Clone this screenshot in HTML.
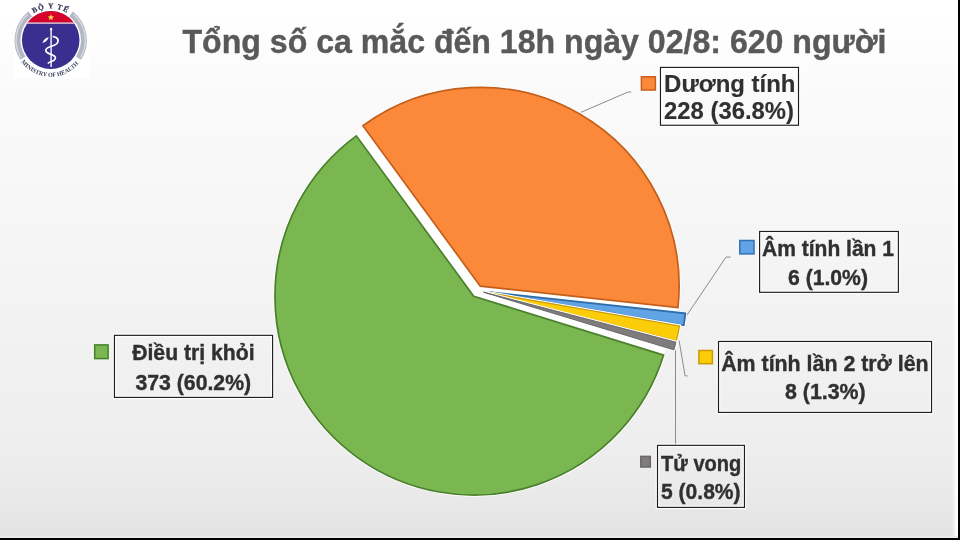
<!DOCTYPE html>
<html><head><meta charset="utf-8"><style>
html,body{margin:0;padding:0;width:960px;height:540px;overflow:hidden;background:#fff}
svg{display:block}
</style></head><body>
<svg width="960" height="540" viewBox="0 0 960 540" style="will-change:transform">
<defs>
<linearGradient id="bg" x1="0" y1="0" x2="0" y2="1">
<stop offset="0" stop-color="#ffffff"/>
<stop offset="0.022" stop-color="#ffffff"/>
<stop offset="0.12" stop-color="#fcfcfc"/>
<stop offset="0.18" stop-color="#fafafa"/>
<stop offset="0.365" stop-color="#f7f7f7"/>
<stop offset="0.55" stop-color="#f3f3f3"/>
<stop offset="0.82" stop-color="#eeeeee"/>
<stop offset="0.87" stop-color="#ececec"/>
<stop offset="0.92" stop-color="#e9e9e9"/>
<stop offset="1" stop-color="#e2e2e2"/>
</linearGradient>
<linearGradient id="rg" x1="0" y1="0" x2="1" y2="0"><stop offset="0" stop-color="#ffffff" stop-opacity="0"/><stop offset="0.75" stop-color="#ffffff" stop-opacity="0.9"/><stop offset="1" stop-color="#ffffff" stop-opacity="1"/></linearGradient>
</defs>
<rect x="0" y="0" width="960" height="540" fill="url(#bg)"/>

<g>
  <rect x="13.5" y="0" width="75.5" height="78.5" fill="#ffffff"/>
  <defs>
    <path id="arcTop" d="M24.65,21.86 A31.8,31.8 0 0 1 76.75,21.86"/>
    <path id="arcBot" d="M19.00,58.40 A36.6,36.6 0 0 0 82.40,58.40"/>
  </defs>
  <path d="M22.86,58.18 A33.2,33.2 0 0 1 30.26,13.94" fill="none" stroke="#b3b7c4" stroke-width="6"/>
  <path d="M71.14,13.94 A33.2,33.2 0 0 1 78.54,58.18" fill="none" stroke="#b3b7c4" stroke-width="6"/>
  <path d="M20.74,57.40 A34.6,34.6 0 0 1 27.55,14.39" fill="none" stroke="#d3d6de" stroke-width="1.6"/>
  <path d="M73.85,14.39 A34.6,34.6 0 0 1 80.66,57.40" fill="none" stroke="#d3d6de" stroke-width="1.6"/>
  <circle cx="50.7" cy="40.1" r="29.6" fill="#ffffff"/>
  <circle cx="50.7" cy="40.1" r="28.8" fill="#3a2f8e"/>
  <path d="M27.6,22.6 A28.8,28.8 0 0 1 73.8,22.6 Z" fill="#d6032a"/>
  <rect x="26.5" y="22.4" width="48.4" height="1.4" fill="#f0c8d0"/>
  <path d="M50.9,14.2 L51.8,16.3 L54.1,16.4 L52.3,17.9 L52.9,20.1 L50.9,18.9 L48.9,20.1 L49.5,17.9 L47.7,16.4 L50,16.3 Z" fill="#f9d64a"/>
  <line x1="51.1" y1="29" x2="51.1" y2="67" stroke="#ecebf6" stroke-width="1.5"/>
  <ellipse cx="51.1" cy="29.2" rx="1.1" ry="1.4" fill="#ffffff"/>
  <path d="M42.4,43 C43.5,39.5 46,37.6 48.8,37.2 C47.8,40 45.5,42.2 42.4,43 Z" fill="#ffffff"/>
  <path d="M53.4,36.6 C57.5,37.2 59.5,40 57,43.5 C54.5,46.5 46.5,46.5 45.8,50 C45.3,53.5 51,53.8 54.6,56.2 C56.5,57.6 55,60.2 52,61.2 C50.5,61.8 49,62.3 48.3,63" fill="none" stroke="#ffffff" stroke-width="1.7" stroke-linecap="round"/>
  <text font-family="Liberation Serif" font-weight="bold" font-size="7.4" fill="#2f3552" letter-spacing="1.0" stroke="#2f3552" stroke-width="0.2"><textPath href="#arcTop" startOffset="50%" text-anchor="middle">BỘ Y TẾ</textPath></text>
  <text font-family="Liberation Serif" font-weight="bold" font-size="6" fill="#3a3f5c"><textPath href="#arcBot" startOffset="4" textLength="66" lengthAdjust="spacingAndGlyphs">MINISTRY OF HEALTH</textPath></text>
</g>

<text x="182.5" y="53.1" font-family="Liberation Sans" font-weight="bold" font-size="32.4" fill="#595959" stroke="#595959" stroke-width="0.4" textLength="704" lengthAdjust="spacingAndGlyphs">Tổng số ca mắc đến 18h ngày 02/8: 620 người</text>
<path d="M631.3,92 L628,92 L580.8,112.4" fill="none" stroke="#8c8c8c" stroke-width="1"/>
<path d="M730.6,257.1 L726,257.1 L687.1,314.9" fill="none" stroke="#8c8c8c" stroke-width="1"/>
<path d="M687.5,375.9 L685.1,375.9 L679.1,340.5" fill="none" stroke="#8c8c8c" stroke-width="1"/>
<path d="M675.5,445 L675.5,345.3" fill="none" stroke="#8c8c8c" stroke-width="1"/>
<path d="M480.30,286.22 L362.89,125.80 L356.32,135.82 L473.73,296.25 L663.62,355.10 L677.94,307.65 Z" fill="#ffffff" fill-opacity="0.92"/><path d="M480.30,286.22 L362.89,125.80 A198.8,198.8 0 0 1 677.94,307.65 Z" fill="#ffffff" stroke="#ffffff" stroke-width="2.6" stroke-linejoin="miter"/>
<path d="M487.70,291.93 L685.35,313.36 A198.8,198.8 0 0 1 683.68,325.33 Z" fill="#ffffff" stroke="#ffffff" stroke-width="2.6" stroke-linejoin="miter"/>
<path d="M483.67,291.80 L679.53,325.88 A198.8,198.8 0 0 1 676.30,340.95 Z" fill="#ffffff" stroke="#ffffff" stroke-width="2.6" stroke-linejoin="miter"/>
<path d="M483.57,292.18 L675.98,342.18 A198.8,198.8 0 0 1 673.82,349.87 Z" fill="#ffffff" stroke="#ffffff" stroke-width="2.6" stroke-linejoin="miter"/>
<path d="M473.73,296.25 L663.62,355.10 A198.8,198.8 0 1 1 356.32,135.82 Z" fill="#ffffff" stroke="#ffffff" stroke-width="2.6" stroke-linejoin="miter"/>
<path d="M480.30,286.22 L362.89,125.80 A198.8,198.8 0 0 1 677.94,307.65 Z" fill="none" stroke="#ffffff" stroke-width="3.2"/><path d="M480.30,286.22 L362.89,125.80 A198.8,198.8 0 0 1 677.94,307.65 Z" fill="#FB8939" stroke="#C45F1B" stroke-width="1.7" stroke-linejoin="miter"/>
<path d="M487.70,291.93 L685.35,313.36 A198.8,198.8 0 0 1 683.68,325.33 Z" fill="none" stroke="#ffffff" stroke-width="3.2"/><path d="M487.70,291.93 L685.35,313.36 A198.8,198.8 0 0 1 683.68,325.33 Z" fill="#60A4E5" stroke="#2E6CAB" stroke-width="1.8" stroke-linejoin="miter"/>
<path d="M483.67,291.80 L679.53,325.88 A198.8,198.8 0 0 1 676.30,340.95 Z" fill="none" stroke="#ffffff" stroke-width="3.2"/><path d="M483.67,291.80 L679.53,325.88 A198.8,198.8 0 0 1 676.30,340.95 Z" fill="#FBCC08" stroke="#C99A0A" stroke-width="1.2" stroke-linejoin="miter"/>
<path d="M483.57,292.18 L675.98,342.18 A198.8,198.8 0 0 1 673.82,349.87 Z" fill="none" stroke="#ffffff" stroke-width="3.2"/><path d="M483.57,292.18 L675.98,342.18 A198.8,198.8 0 0 1 673.82,349.87 Z" fill="#807C7D" stroke="#5f5d5f" stroke-width="0.9" stroke-linejoin="miter"/>
<path d="M473.73,296.25 L663.62,355.10 A198.8,198.8 0 1 1 356.32,135.82 Z" fill="none" stroke="#ffffff" stroke-width="3.2"/><path d="M473.73,296.25 L663.62,355.10 A198.8,198.8 0 1 1 356.32,135.82 Z" fill="#7AB750" stroke="#4A7F2B" stroke-width="1.7" stroke-linejoin="miter"/>
<rect x="660.45" y="67.4" width="138.05" height="57.85" fill="none" stroke="#ffffff" stroke-opacity="0.85" stroke-width="3.6"/><rect x="660.45" y="67.4" width="138.05" height="57.85" fill="none" stroke="#1c1c1c" stroke-width="1.15"/><rect x="641.4" y="76.8" width="14.0" height="13.2" fill="#FB8939" stroke="#C95E18" stroke-width="1.5"/><rect x="759.6" y="231.45" width="138.8" height="60.85" fill="none" stroke="#ffffff" stroke-opacity="0.85" stroke-width="3.6"/><rect x="759.6" y="231.45" width="138.8" height="60.85" fill="none" stroke="#1c1c1c" stroke-width="1.15"/><rect x="739.8" y="240.5" width="14.2" height="13.4" fill="#60A4E5" stroke="#2F70B8" stroke-width="1.5"/><rect x="718.5" y="341.45" width="213.05" height="70.95" fill="none" stroke="#ffffff" stroke-opacity="0.85" stroke-width="3.6"/><rect x="718.5" y="341.45" width="213.05" height="70.95" fill="none" stroke="#1c1c1c" stroke-width="1.15"/><rect x="698.9" y="350.5" width="13.5" height="13.2" fill="#FBCC08" stroke="#C99A05" stroke-width="1.5"/><rect x="657.5" y="445.35" width="86.95" height="62.05" fill="none" stroke="#ffffff" stroke-opacity="0.85" stroke-width="3.6"/><rect x="657.5" y="445.35" width="86.95" height="62.05" fill="none" stroke="#1c1c1c" stroke-width="1.15"/><rect x="640.8" y="456.4" width="9.5" height="10.6" fill="#807C7D" stroke="#6a6668" stroke-width="1.5"/><rect x="114.45" y="335.35" width="158.15" height="62.05" fill="none" stroke="#ffffff" stroke-opacity="0.85" stroke-width="3.6"/><rect x="114.45" y="335.35" width="158.15" height="62.05" fill="none" stroke="#1c1c1c" stroke-width="1.15"/><rect x="94.7" y="344.9" width="13.4" height="13.7" fill="#7AB750" stroke="#46802A" stroke-width="1.5"/><text x="664.10" y="92.4" font-family="Liberation Sans" font-weight="bold" font-size="23" fill="#303030" text-anchor="start" textLength="131.40" lengthAdjust="spacingAndGlyphs" stroke="#303030" stroke-width="0.15">Dương tính</text><text x="664.10" y="119.2" font-family="Liberation Sans" font-weight="bold" font-size="23" fill="#303030" text-anchor="start" textLength="129.80" lengthAdjust="spacingAndGlyphs" stroke="#303030" stroke-width="0.15">228 (36.8%)</text><text x="762.00" y="256.3" font-family="Liberation Sans" font-weight="bold" font-size="22.5" fill="#303030" text-anchor="start" textLength="132.00" lengthAdjust="spacingAndGlyphs" stroke="#303030" stroke-width="0.4">Âm tính lần 1</text><text x="788.00" y="284.8" font-family="Liberation Sans" font-weight="bold" font-size="22.5" fill="#303030" text-anchor="start" textLength="80.00" lengthAdjust="spacingAndGlyphs" stroke="#303030" stroke-width="0.4">6 (1.0%)</text><text x="721.20" y="370.8" font-family="Liberation Sans" font-weight="bold" font-size="22.5" fill="#303030" text-anchor="start" textLength="207.40" lengthAdjust="spacingAndGlyphs" stroke="#303030" stroke-width="0.4">Âm tính lần 2 trở lên</text><text x="785.00" y="399.1" font-family="Liberation Sans" font-weight="bold" font-size="22.5" fill="#303030" text-anchor="start" textLength="80.60" lengthAdjust="spacingAndGlyphs" stroke="#303030" stroke-width="0.4">8 (1.3%)</text><text x="661.00" y="470.8" font-family="Liberation Sans" font-weight="bold" font-size="22.5" fill="#303030" text-anchor="start" textLength="80.40" lengthAdjust="spacingAndGlyphs" stroke="#303030" stroke-width="0.4">Tử vong</text><text x="661.00" y="498.7" font-family="Liberation Sans" font-weight="bold" font-size="22.5" fill="#303030" text-anchor="start" textLength="79.60" lengthAdjust="spacingAndGlyphs" stroke="#303030" stroke-width="0.4">5 (0.8%)</text><text x="132.20" y="360.3" font-family="Liberation Sans" font-weight="bold" font-size="22.5" fill="#303030" text-anchor="start" textLength="122.40" lengthAdjust="spacingAndGlyphs" stroke="#303030" stroke-width="0.4">Điều trị khỏi</text><text x="135.50" y="389.8" font-family="Liberation Sans" font-weight="bold" font-size="22.5" fill="#303030" text-anchor="start" textLength="115.60" lengthAdjust="spacingAndGlyphs" stroke="#303030" stroke-width="0.4">373 (60.2%)</text>
<rect x="952" y="0" width="6" height="536" fill="url(#rg)"/>
<rect x="0" y="536" width="958" height="2" fill="#ebebeb"/>
<rect x="958" y="0" width="2" height="540" fill="#000"/>
<rect x="0" y="538" width="960" height="2" fill="#000"/>
</svg>
</body></html>
